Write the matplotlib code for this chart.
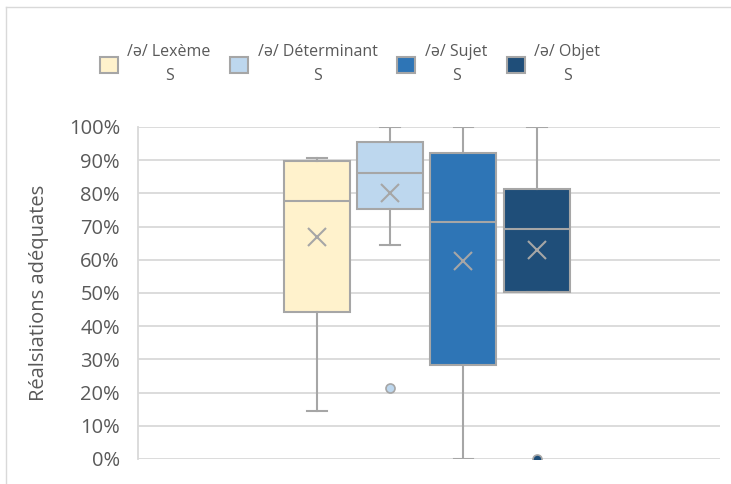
import matplotlib
matplotlib.use('Agg')
from matplotlib import pyplot as plt
from matplotlib.patches import Patch
from matplotlib.lines import Line2D
from matplotlib.ticker import PercentFormatter, MultipleLocator

plt.rcParams['font.family'] = ['Open Sans', 'DejaVu Sans']

# box plot values (percent)
labels = ['/ə/ Lexème\nS', '/ə/ Déterminant\nS', '/ə/ Sujet\nS', '/ə/ Objet\nS']
colors = ['#FFF2CC', '#BDD7EE', '#2E75B6', '#1F4E79']
whislo = [14.5, 64.4, 0.0, 50.2]
q1 = [44.3, 75.4, 28.3, 50.2]
med = [77.7, 86.2, 71.5, 69.2]
q3 = [89.8, 95.6, 92.3, 81.3]
whishi = [90.6, 100.0, 100.0, 100.0]
means = [66.9, 80.0, 59.7, 63.0]
fliers = [[], [21.3], [], [0.0]]

edge = '#A6A6A6'
text_col = '#595959'

stats = []
for i in range(len(labels)):
    stats.append({'label': labels[i], 'whislo': whislo[i], 'q1': q1[i], 'med': med[i],
                  'q3': q3[i], 'whishi': whishi[i], 'mean': means[i], 'fliers': fliers[i]})

fig = plt.figure(figsize=(7.31, 4.84), dpi=100)
ax = fig.add_axes([138 / 731, 1 - 459 / 484, (720 - 138) / 731, (459 - 127) / 484])

positions = [1, 2, 3, 4]
bp = ax.bxp(stats, positions=positions, widths=0.9, capwidths=0.27, patch_artist=True,
            showmeans=True, showfliers=True,
            boxprops=dict(edgecolor=edge, linewidth=1.5),
            medianprops=dict(color=edge, linewidth=1.5),
            whiskerprops=dict(color=edge, linewidth=1.5),
            capprops=dict(color=edge, linewidth=1.5),
            meanprops=dict(marker='x', markersize=13, markeredgecolor=edge,
                           markeredgewidth=1.5, markerfacecolor='none'),
            flierprops=dict(marker='o', markersize=6.5, markeredgecolor=edge,
                            markeredgewidth=1.2))

for box, fl, c in zip(bp['boxes'], bp['fliers'], colors):
    box.set_facecolor(c)
    fl.set_markerfacecolor(c)

ax.set_xlim(-1.44, 6.5)
ax.set_ylim(0, 100)
ax.yaxis.set_major_locator(MultipleLocator(10))
ax.yaxis.set_major_formatter(PercentFormatter(100, decimals=0))
ax.set_xticks([])
ax.grid(axis='y', color='#D9D9D9', linewidth=1.3)
ax.set_axisbelow(True)
for s in ['top', 'right', 'bottom']:
    ax.spines[s].set_visible(False)
ax.spines['left'].set_color('#D9D9D9')
ax.spines['left'].set_linewidth(1.3)
ax.tick_params(axis='y', length=0, pad=13, labelsize=14.5, labelcolor=text_col)
ax.set_ylabel('Réalsiations adéquates', fontsize=14.5, color=text_col, labelpad=14)

handles = [Patch(facecolor=c, edgecolor=edge, linewidth=1.5) for c in colors]
leg = fig.legend(handles, labels, loc='center', bbox_to_anchor=(350 / 731, 1 - 64 / 484),
                 ncol=4, frameon=False, fontsize=11.5, handlelength=1.15, handleheight=1.15,
                 handletextpad=0.6, columnspacing=1.2, labelcolor=text_col)
for t in leg.get_texts():
    t.set_multialignment('center')
    t.set_linespacing(1.75)

# chart area border (top and left visible in the crop)
fig.add_artist(Line2D([6 / 731, 1], [1 - 7 / 484, 1 - 7 / 484], color='#D9D9D9', linewidth=1))
fig.add_artist(Line2D([6 / 731, 6 / 731], [0, 1 - 7 / 484], color='#D9D9D9', linewidth=1))

fig.savefig('out.png', dpi=100)
